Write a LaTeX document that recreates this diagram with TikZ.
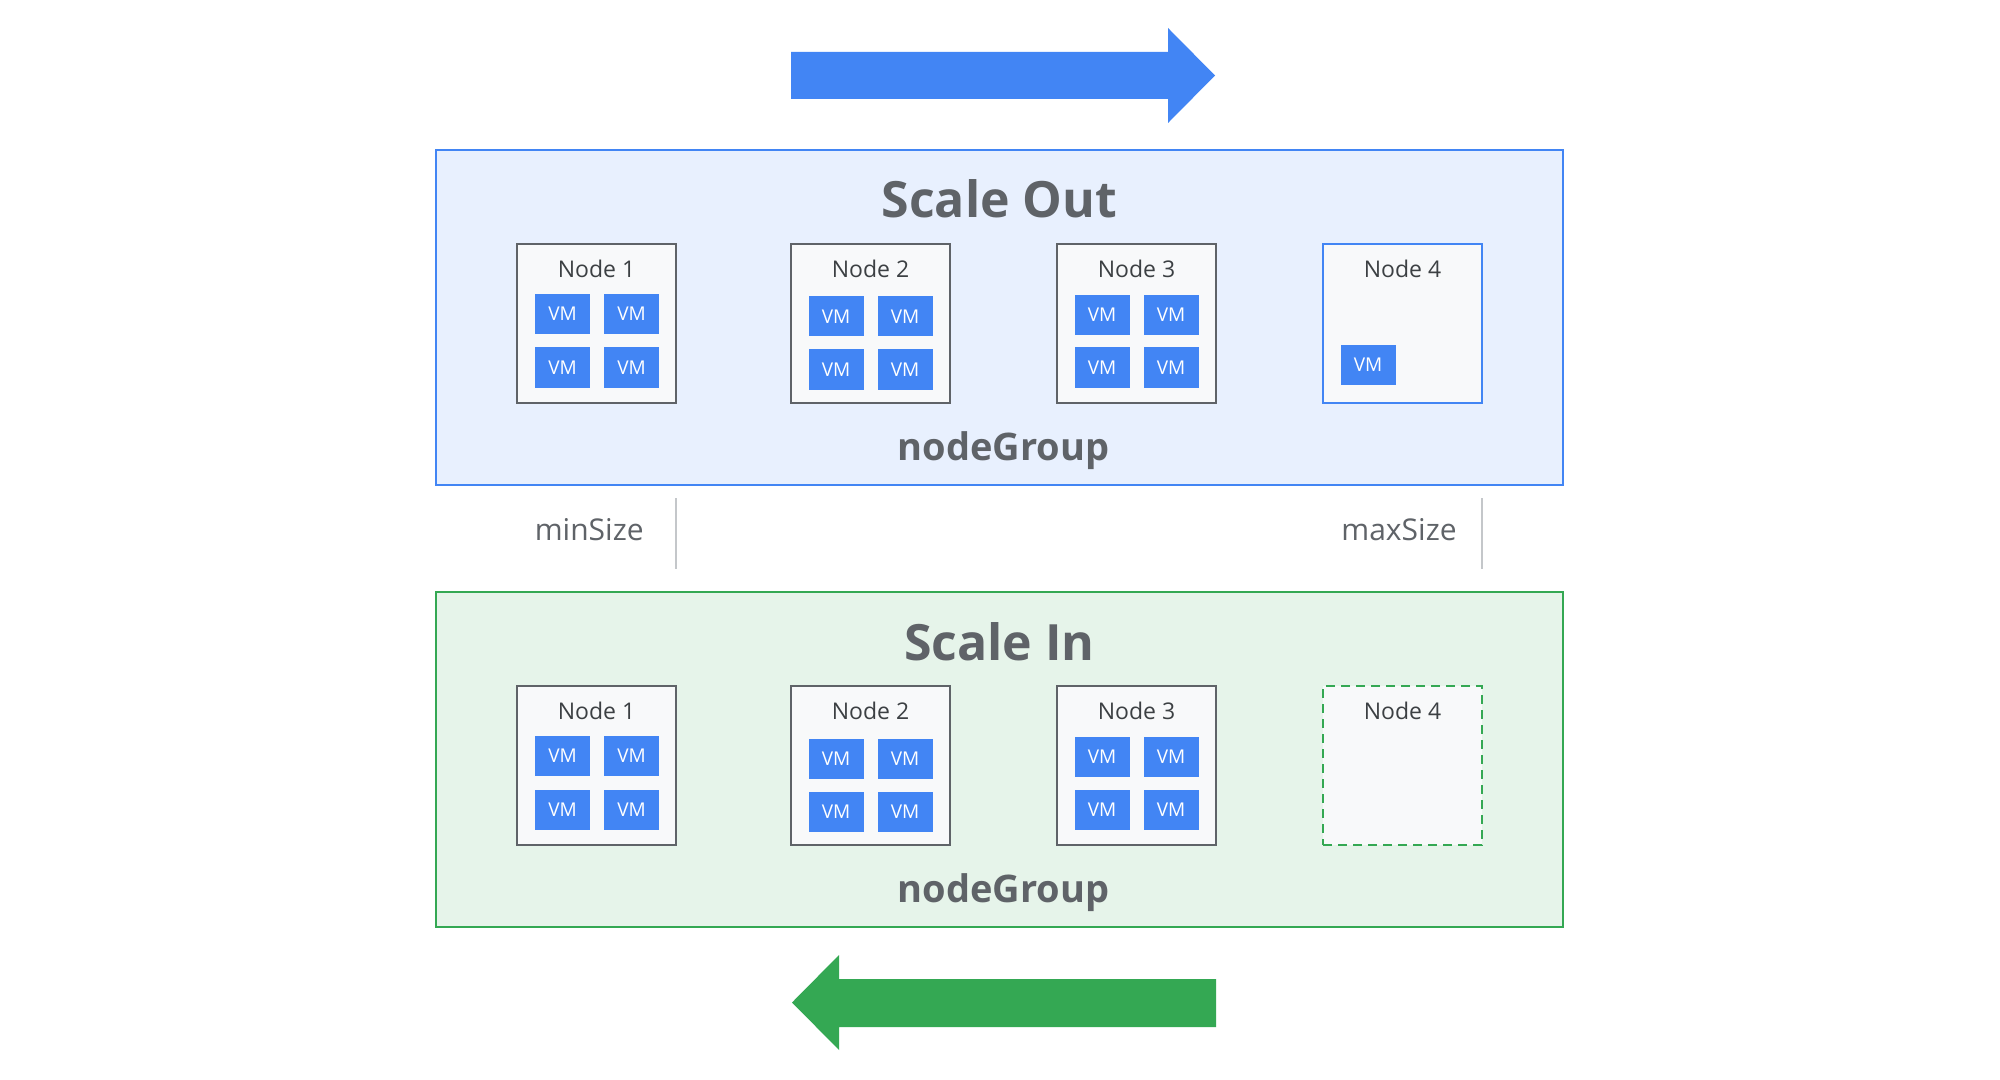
\documentclass[tikz,border=0pt]{standalone}
\usepackage{fontspec}
\setmainfont{Open Sans}
\usetikzlibrary{positioning}

\definecolor{gblue}{HTML}{4285F4}
\definecolor{ggreen}{HTML}{34A853}
\definecolor{outfill}{HTML}{E8F0FE}
\definecolor{infill}{HTML}{E6F4EA}
\definecolor{boxfill}{HTML}{F8F9FA}
\definecolor{boxline}{HTML}{5F6368}
\definecolor{greytext}{HTML}{5F6368}
\definecolor{darktext}{HTML}{3C4043}
\definecolor{sepline}{HTML}{C4C7CA}

\begin{document}
\begin{tikzpicture}[x=0.5pt, y=-0.5pt, node distance={53.5pt},
	panel/.style = {line width=1pt, minimum width=563.5pt, minimum height=167.5pt, inner sep=0pt, outer sep=0pt},
	nodebox/.style = {draw=boxline, fill=boxfill, line width=1.2pt, minimum size=79.5pt, inner sep=0pt, outer sep=0pt},
	boxtitle/.style = {text=darktext, font=\fontsize{11.5}{13}\selectfont, inner sep=0pt},
	vm/.style = {fill=gblue, text=white, minimum width=27.5pt, minimum height=20pt, inner sep=0pt, font=\fontsize{9.5}{10}\selectfont},
	heading/.style = {text=greytext, font=\bfseries\fontsize{25}{28}\selectfont, inner sep=0pt},
	group/.style = {text=greytext, font=\bfseries\fontsize{19}{21}\selectfont, inner sep=0pt},
	sizelbl/.style = {text=greytext, font=\fontsize{15}{17}\selectfont, inner sep=0pt},
	sizeline/.style = {draw=sepline, line width=1pt}]
	\path[use as bounding box, fill=white] (0,0) rectangle (2000,1080);

	%% Direction arrows
	\fill[gblue] (791,52) -- (1168,52) -- (1168,28) -- (1215,75.5) -- (1168,123) -- (1168,99) -- (791,99) -- cycle;
	\fill[ggreen] (1216,979) -- (839,979) -- (839,955) -- (792,1002.5) -- (839,1050) -- (839,1027) -- (1216,1027) -- cycle;

	%% Panels
	\node[panel, draw=gblue, fill=outfill] (out) at (999.5,317.5) {};
	\node[panel, draw=ggreen, fill=infill, below=of out] (in) {};

	\node[heading, anchor=base] (outTitle) at ([yshift=-34pt]out.north) {Scale Out};
	\node[group, anchor=base] (outGroup) at ([xshift=2pt, yshift=12.5pt]out.south) {nodeGroup};
	\node[heading, anchor=base] (inTitle) at ([yshift=-34pt]in.north) {Scale In};
	\node[group, anchor=base] (inGroup) at ([xshift=2pt, yshift=12.5pt]in.south) {nodeGroup};

	%% Nodes -- scale out
	\node[nodebox] (o1) at (596.5,323.5) {};
	\node[nodebox, right=57.5pt of o1] (o2) {};
	\node[nodebox, right=of o2] (o3) {};
	\node[nodebox, draw=gblue, right=of o3] (o4) {};

	\node[boxtitle] (o1t) at ([yshift=-12.5pt]o1.north) {Node 1};
	\node[boxtitle] (o2t) at ([yshift=-12.5pt]o2.north) {Node 2};
	\node[boxtitle] (o3t) at ([yshift=-12.5pt]o3.north) {Node 3};
	\node[boxtitle] (o4t) at ([yshift=-12.5pt]o4.north) {Node 4};

	\node[vm] (o1a) at ([shift={(-34,-9.5)}]o1.center) {VM};
	\node[vm] (o1b) at ([shift={(35,-9.5)}]o1.center) {VM};
	\node[vm] (o1c) at ([shift={(-34,44)}]o1.center) {VM};
	\node[vm] (o1d) at ([shift={(35,44)}]o1.center) {VM};

	\node[vm] (o2a) at ([shift={(-34.5,-7)}]o2.center) {VM};
	\node[vm] (o2b) at ([shift={(34.5,-7)}]o2.center) {VM};
	\node[vm] (o2c) at ([shift={(-34.5,46)}]o2.center) {VM};
	\node[vm] (o2d) at ([shift={(34.5,46)}]o2.center) {VM};

	\node[vm] (o3a) at ([shift={(-34.5,-8.5)}]o3.center) {VM};
	\node[vm] (o3b) at ([shift={(34.5,-8.5)}]o3.center) {VM};
	\node[vm] (o3c) at ([shift={(-34.5,44)}]o3.center) {VM};
	\node[vm] (o3d) at ([shift={(34.5,44)}]o3.center) {VM};

	\node[vm] (o4a) at ([shift={(-34.5,41.5)}]o4.center) {VM};

	%% Nodes -- scale in
	\node[nodebox, below=141.5pt of o1] (i1) {};
	\node[nodebox, right=57.5pt of i1] (i2) {};
	\node[nodebox, right=of i2] (i3) {};
	\node[nodebox, draw=ggreen, dashed, dash pattern=on 4.5pt off 3pt, right=of i3] (i4) {};

	\node[boxtitle] (i1t) at ([yshift=-12.5pt]i1.north) {Node 1};
	\node[boxtitle] (i2t) at ([yshift=-12.5pt]i2.north) {Node 2};
	\node[boxtitle] (i3t) at ([yshift=-12.5pt]i3.north) {Node 3};
	\node[boxtitle] (i4t) at ([yshift=-12.5pt]i4.north) {Node 4};

	\node[vm] (i1a) at ([shift={(-34,-9.5)}]i1.center) {VM};
	\node[vm] (i1b) at ([shift={(35,-9.5)}]i1.center) {VM};
	\node[vm] (i1c) at ([shift={(-34,44)}]i1.center) {VM};
	\node[vm] (i1d) at ([shift={(35,44)}]i1.center) {VM};

	\node[vm] (i2a) at ([shift={(-34.5,-7)}]i2.center) {VM};
	\node[vm] (i2b) at ([shift={(34.5,-7)}]i2.center) {VM};
	\node[vm] (i2c) at ([shift={(-34.5,46)}]i2.center) {VM};
	\node[vm] (i2d) at ([shift={(34.5,46)}]i2.center) {VM};

	\node[vm] (i3a) at ([shift={(-34.5,-8.5)}]i3.center) {VM};
	\node[vm] (i3b) at ([shift={(34.5,-8.5)}]i3.center) {VM};
	\node[vm] (i3c) at ([shift={(-34.5,44)}]i3.center) {VM};
	\node[vm] (i3d) at ([shift={(34.5,44)}]i3.center) {VM};

	%% Size limits
	\coordinate (minTop) at ([yshift=-47.5pt]o1.south east);
	\coordinate (minBot) at ([yshift=-83pt]o1.south east);
	\coordinate (maxTop) at ([yshift=-47.5pt]o4.south east);
	\coordinate (maxBot) at ([yshift=-83pt]o4.south east);
	\draw[sizeline] (minTop) -- (minBot);
	\draw[sizeline] (maxTop) -- (maxBot);

	\node[sizelbl, anchor=base east] (minLbl) at (644,540) {minSize};
	\node[sizelbl, anchor=base east] (maxLbl) at (1457,540) {maxSize};
\end{tikzpicture}
\end{document}
